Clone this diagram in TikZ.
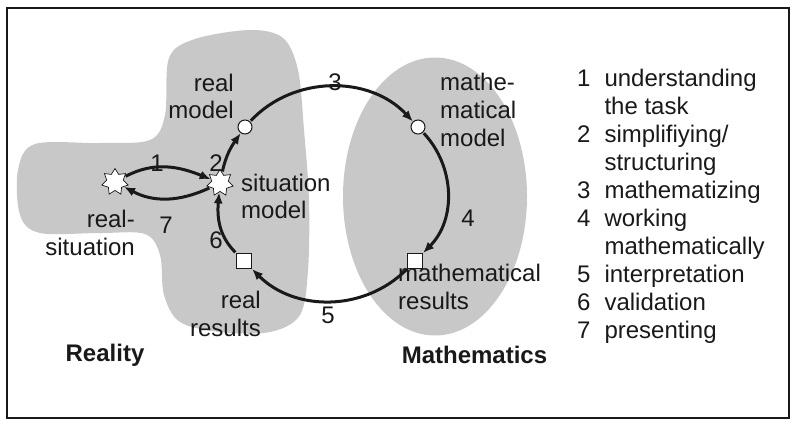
\documentclass[tikz,border=0pt]{standalone}
\usepackage{fontspec}
\setmainfont{Liberation Sans}
\usetikzlibrary{shapes.geometric,arrows.meta}
\definecolor{blobgray}{RGB}{200,200,200}
\definecolor{ink}{RGB}{25,25,25}
\begin{document}
\begin{tikzpicture}[x=1pt,y=1pt,
  font=\fontsize{24}{27.6}\selectfont, text=ink,
  mystar/.style={draw=ink, fill=white, star, star points=7, star point ratio=1.6, minimum size=27pt, inner sep=0pt, line width=0.7pt},
  circ/.style={circle, draw=ink, fill=white, minimum size=14pt, inner sep=0pt, line width=1pt},
  sq/.style={rectangle, draw=ink, fill=white, minimum size=15pt, inner sep=0pt, line width=1pt},
  arr/.style={draw=ink, line width=3pt, -{Latex[length=11pt,width=9pt]}, shorten <=1pt},
  lbl/.style={inner sep=0pt},
  multi/.style={inner sep=0pt, align=#1},
  bold/.style={inner sep=0pt, font=\fontsize{24}{27.6}\selectfont\bfseries}
]
\useasboundingbox (0,0) rectangle (799,426);
\draw[ink, line width=1.4pt] (7,8) rectangle (789,418);

% Reality blob
\fill[blobgray] plot[smooth cycle, tension=0.55] coordinates {
 (169,368) (195,387) (250,396) (283,388) (298,356) (304,296) (309,226)
 (308,156) (300,111) (270,94) (220,94) (180,104) (164,131) (160,171)
 (145,192) (100,193) (40,193) (20,211) (18,256) (35,282) (100,283)
 (150,286) (165,311)};
% Mathematics ellipse
\fill[blobgray] (435,229.5) ellipse [x radius=92, y radius=139];

% nodes
\node[mystar] (rs) at (115,244) {};
\node[mystar] (sm) at (220,243) {};
\node[circ] (rm) at (245,299) {};
\node[circ] (mm) at (418,299) {};
\node[sq] (mr) at (415,165) {};
\node[sq] (rr) at (244,165) {};

% connectors
\draw[arr] (rm) to[out=47,in=133] (mm);
\draw[arr] (mm) to[out=-47,in=45] (mr);
\draw[arr] (mr) to[out=-135,in=-45] (rr);
\draw[arr] (rr) to[out=135,in=265] (sm);
\draw[arr] (sm) to[out=78,in=235] (rm);
\draw[arr] (rs) to[out=28,in=158] (sm);
\draw[arr] (sm) to[out=-155,in=-28] (rs);

% numbers
\node[lbl] (n1) at (157,263) {1};
\node[lbl] (n2) at (216,263) {2};
\node[lbl] (n3) at (335,344) {3};
\node[lbl] (n4) at (468,208) {4};
\node[lbl] (n5) at (328,111) {5};
\node[lbl] (n6) at (216,186) {6};
\node[lbl] (n7) at (166,201) {7};

% labels
\node[multi=right, anchor=east] (trm) at (234,329.5) {real\\model};
\node[multi=left, anchor=west] (tsm) at (241,229.5) {situation\\model};
\node[multi=right, anchor=east] (trs) at (135,193) {real-\\situation};
\node[multi=right, anchor=east] (trr) at (261,112) {real\\results};
\node[multi=left, anchor=west] (tmm) at (440,316) {mathe-\\matical\\model};
\node[multi=left, anchor=west] (tmr) at (398,139) {mathematical\\results};
\node[bold] (real) at (105,71) {Reality};
\node[bold] (math) at (474.5,71) {Mathematics};

% legend
\node[inner sep=0pt, anchor=west] (legend) at (577,219) {%
  \def\arraystretch{1.0145}%
  \begin{tabular}{@{}l@{\hspace{14pt}}l@{}}
  1 & understanding\\
    & the task\\
  2 & simplifiying/\\
    & structuring\\
  3 & mathematizing\\
  4 & working\\
    & mathematically\\
  5 & interpretation\\
  6 & validation\\
  7 & presenting
  \end{tabular}};
\end{tikzpicture}
\end{document}
